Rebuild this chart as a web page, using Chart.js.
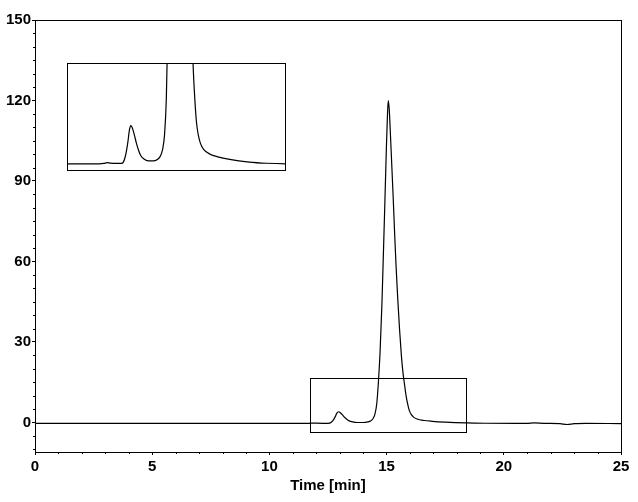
<!DOCTYPE html>
<html>
<head>
<meta charset="utf-8">
<script src="https://cdn.jsdelivr.net/npm/chart.js"></script>
<style>
  body { margin: 0; background: #fff; }
  #wrap { position: relative; width: 638px; height: 502px; }
  #inset { position: absolute; left: 67px; top: 63px; }
</style>
</head>
<body>
<div id="wrap">
  <canvas id="main-chart" width="638" height="502"></canvas>
  <canvas id="inset" width="219" height="108"></canvas>
</div>
<script>
// chromatogram
const timeMin = [0, 3, 6, 9, 11.5, 11.7, 11.85, 12.0, 12.3, 12.5, 12.6, 12.7, 12.8, 12.88, 12.94, 13.0,
  13.1, 13.2, 13.3, 13.4, 13.55, 13.75, 14.0, 14.2, 14.3, 14.4, 14.5, 14.58, 14.65, 14.72, 14.8,
  14.86, 14.92, 14.98, 15.03, 15.07, 15.11, 15.16, 15.22, 15.28, 15.34, 15.4, 15.47, 15.55, 15.63,
  15.7, 15.76, 15.83, 15.9, 15.97, 16.05, 16.15, 16.3, 16.6, 16.95, 17.5, 18.4, 19.2, 20.5, 21.0,
  21.3, 21.7, 22.4, 22.7, 23.0, 23.5, 25];
const signal = [-0.35, -0.35, -0.35, -0.35, -0.35, -0.3, -0.22, -0.27, -0.3, -0.3, -0.15, 0.6, 2.0, 3.5, 4.0, 3.8,
  3.0, 2.0, 1.2, 0.6, 0.2, 0.0, 0.0, 0.2, 0.5, 1.2, 3.0, 7, 15, 26, 44,
  62, 80, 99, 113, 120, 117, 108, 96, 84, 71, 59, 47, 35, 25,
  18.5, 14.5, 10, 6.8, 4.4, 3.0, 2.0, 1.3, 0.75, 0.45, 0.15, -0.15, -0.28, -0.35, -0.3,
  -0.15, -0.3, -0.45, -0.75, -0.45, -0.35, -0.4];

const xTicks = [0, 5, 10, 15, 20, 25];
const yTicks = [0, 30, 60, 90, 120, 150];
const xRange = [0, 25];
const yRange = [-11, 150];

// zoom window marked on the main plot and the range shown in the inset
const zoomBoxX = [11.73, 18.37];
const zoomBoxY = [-3.5, 16.4];
const insetX = [10.0, 20.1];
const insetY = [-1.16, 11.1];

const points = timeMin.map((t, i) => ({x: t, y: signal[i]}));
const labelFont = {family: "'Liberation Sans', Arial, sans-serif", size: 15, weight: 'bold'};

const framePlugin = {
  id: 'frame',
  afterDraw(chart) {
    const ctx = chart.ctx;
    const a = chart.chartArea;
    const x = chart.scales.x, y = chart.scales.y;
    ctx.save();
    ctx.strokeStyle = '#000';
    ctx.lineWidth = 1;
    ctx.strokeRect(Math.round(a.left) + 0.5, Math.round(a.top) + 0.5,
      Math.round(a.right - a.left), Math.round(a.bottom - a.top));
    // minor ticks
    ctx.beginPath();
    for (let v = xRange[0]; v <= xRange[1]; v++) {
      if (v % 5 === 0) continue;
      const px = Math.round(x.getPixelForValue(v)) + 0.5;
      ctx.moveTo(px, a.bottom);
      ctx.lineTo(px, a.bottom + 2);
    }
    for (let v = -10; v <= yRange[1]; v += 5) {
      if (v % 30 === 0) continue;
      const py = Math.round(y.getPixelForValue(v)) + 0.5;
      ctx.moveTo(a.left, py);
      ctx.lineTo(a.left - 2, py);
    }
    ctx.stroke();
    // zoom window
    const x1 = Math.round(x.getPixelForValue(zoomBoxX[0])) + 0.5;
    const x2 = Math.round(x.getPixelForValue(zoomBoxX[1])) + 0.5;
    const y1 = Math.round(y.getPixelForValue(zoomBoxY[1])) + 0.5;
    const y2 = Math.round(y.getPixelForValue(zoomBoxY[0])) + 0.5;
    ctx.strokeRect(x1, y1, x2 - x1, y2 - y1);
    ctx.restore();
  }
};

new Chart(document.getElementById('main-chart'), {
  type: 'line',
  data: {
    datasets: [{
      data: points,
      borderColor: '#000',
      borderWidth: 1.2,
      pointRadius: 0,
      cubicInterpolationMode: 'monotone'
    }]
  },
  options: {
    responsive: false,
    animation: false,
    layout: {padding: {left: 0, right: 17, top: 20, bottom: 0}},
    plugins: {legend: {display: false}, tooltip: {enabled: false}},
    scales: {
      x: {
        type: 'linear',
        min: xRange[0],
        max: xRange[1],
        afterBuildTicks: s => { s.ticks = xTicks.map(v => ({value: v})); },
        afterFit: s => { s.height = 50; },
        grid: {drawOnChartArea: false, tickLength: 3, color: '#000'},
        border: {display: false},
        ticks: {font: labelFont, color: '#000', maxRotation: 0, padding: 3},
        title: {display: true, text: 'Time [min]', font: labelFont, color: '#000',
          padding: {top: 0, bottom: 7}}
      },
      y: {
        min: yRange[0],
        max: yRange[1],
        afterBuildTicks: s => { s.ticks = yTicks.map(v => ({value: v})); },
        afterFit: s => { s.width = 35; },
        grid: {drawOnChartArea: false, tickLength: 3, color: '#000'},
        border: {display: false},
        ticks: {font: labelFont, color: '#000', padding: 1}
      }
    }
  },
  plugins: [framePlugin]
});

const insetBox = {
  id: 'insetBox',
  afterDraw(chart) {
    const ctx = chart.ctx;
    ctx.save();
    ctx.strokeStyle = '#000';
    ctx.lineWidth = 1;
    ctx.strokeRect(0.5, 0.5, chart.width - 1, chart.height - 1);
    ctx.restore();
  }
};

new Chart(document.getElementById('inset'), {
  type: 'line',
  data: {
    datasets: [{
      data: points,
      borderColor: '#000',
      borderWidth: 1.2,
      pointRadius: 0,
      cubicInterpolationMode: 'monotone'
    }]
  },
  options: {
    responsive: false,
    animation: false,
    layout: {padding: 0},
    plugins: {legend: {display: false}, tooltip: {enabled: false}},
    scales: {
      x: {type: 'linear', min: insetX[0], max: insetX[1], display: false},
      y: {min: insetY[0], max: insetY[1], display: false}
    }
  },
  plugins: [insetBox]
});
</script>
</body>
</html>
